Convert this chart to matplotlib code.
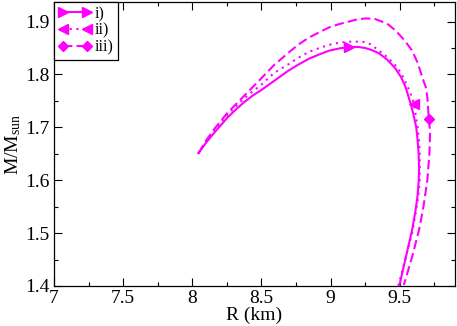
import numpy as np
import matplotlib
matplotlib.use("Agg")
import matplotlib.pyplot as plt
from matplotlib.lines import Line2D
from matplotlib.ticker import MultipleLocator, FormatStrFormatter

plt.rcParams['font.family'] = ['Liberation Serif', 'DejaVu Serif']
plt.rcParams['mathtext.fontset'] = 'custom'
plt.rcParams['mathtext.rm'] = 'Liberation Serif'

# curve i) solid
r_i = [8.045, 8.10, 8.16, 8.21, 8.257, 8.317, 8.377, 8.437, 8.497, 8.593, 8.70, 8.77, 8.846, 8.92, 8.99, 9.06, 9.134,
       9.20, 9.25, 9.30, 9.35, 9.41, 9.47, 9.51, 9.543, 9.579, 9.60, 9.62, 9.630, 9.637, 9.640, 9.638,
       9.629, 9.613, 9.59, 9.545, 9.497]
m_i = [1.651, 1.671, 1.690, 1.705, 1.719, 1.734, 1.748, 1.760, 1.770, 1.788, 1.808, 1.819, 1.830, 1.838, 1.845, 1.849, 1.852,
       1.852, 1.850, 1.846, 1.840, 1.828, 1.811, 1.795, 1.776, 1.745, 1.724, 1.700, 1.675, 1.650, 1.625, 1.600,
       1.570, 1.540, 1.506, 1.455, 1.400]

# curve ii) dotted
r_ii = [8.045, 8.10, 8.16, 8.21, 8.257, 8.317, 8.377, 8.437, 8.497, 8.593, 8.70, 8.77, 8.846, 8.92, 8.99, 9.06, 9.134,
        9.23, 9.29, 9.35, 9.41, 9.47, 9.51, 9.543, 9.575, 9.603, 9.63, 9.64, 9.645, 9.645,
        9.635, 9.62, 9.59, 9.54, 9.49]
m_ii = [1.651, 1.673, 1.693, 1.709, 1.724, 1.740, 1.755, 1.768, 1.780, 1.803, 1.820, 1.832, 1.843, 1.850, 1.856, 1.860, 1.862,
        1.862, 1.857, 1.845, 1.833, 1.817, 1.803, 1.785, 1.767, 1.745, 1.700, 1.675, 1.650, 1.600,
        1.570, 1.545, 1.500, 1.450, 1.400]

# curve iii) dashed
r_iii = [8.045, 8.10, 8.16, 8.21, 8.257, 8.317, 8.377, 8.437, 8.497, 8.593, 8.70, 8.77, 8.846, 8.92, 8.99, 9.06, 9.134,
         9.19, 9.257, 9.32, 9.37, 9.42, 9.47, 9.53, 9.59, 9.63, 9.663, 9.69, 9.70, 9.711, 9.72,
         9.715, 9.70, 9.672, 9.64, 9.59, 9.53]
m_iii = [1.651, 1.675, 1.697, 1.713, 1.728, 1.744, 1.760, 1.776, 1.792, 1.818, 1.842, 1.857, 1.870, 1.880, 1.889, 1.895, 1.900,
         1.904, 1.906, 1.905, 1.900, 1.894, 1.883, 1.866, 1.845, 1.822, 1.795, 1.775, 1.757, 1.716, 1.690,
         1.650, 1.600, 1.550, 1.506, 1.455, 1.402]

labels = ['i)', 'ii)', 'iii)']
mark_idx = [16, 25, 29]
color = '#ff00ff'

fig = plt.figure(figsize=(4.57, 3.26), dpi=100)
ax = fig.add_axes([0.118, 0.1227, 0.8776, 0.8712])

curves = [(r_i, m_i, '-', '>'), (r_ii, m_ii, (0, (1, 2.2)), '<'), (r_iii, m_iii, (0, (4.5, 2)), 'D')]
handles = []
for (r, m, ls, mk), lab, k in zip(curves, labels, mark_idx):
    ax.plot(r, m, color=color, ls=ls, lw=1.5)
    ms = 5 if mk == 'D' else 7
    ax.plot(r[k], m[k], ls='none', marker=mk, color=color, ms=ms)
    handles.append(Line2D([], [], color=color, ls=ls, lw=1.5, marker=mk, ms=ms))

ax.set_xlim(7, 9.9)
ax.set_ylim(1.4, 1.937)
ax.xaxis.set_major_locator(MultipleLocator(0.5))
ax.xaxis.set_minor_locator(MultipleLocator(0.25))
ax.yaxis.set_major_locator(MultipleLocator(0.1))
ax.yaxis.set_minor_locator(MultipleLocator(0.05))
ax.xaxis.set_major_formatter(FormatStrFormatter('%g'))
ax.yaxis.set_major_formatter(FormatStrFormatter('%g'))
ax.tick_params(which='both', direction='in', top=True, right=True, labelsize=14, pad=3)
ax.tick_params(which='major', length=6, width=0.8)
ax.tick_params(which='minor', length=3, width=0.8)
for s in ax.spines.values():
    s.set_linewidth(0.9)

ax.set_xlabel('R (km)', fontsize=14, labelpad=0)
ax.set_ylabel(r'$\mathrm{M/M_{sun}}$', fontsize=14, labelpad=2)

leg = ax.legend(handles, labels, loc='upper left', numpoints=2, fontsize=11.5,
                borderaxespad=0, fancybox=False, edgecolor='black', framealpha=1,
                handlelength=2.1, handletextpad=0.2, labelspacing=0.05, borderpad=0.25)
leg.get_frame().set_linewidth(0.9)

fig.savefig('out.png', dpi=100)
